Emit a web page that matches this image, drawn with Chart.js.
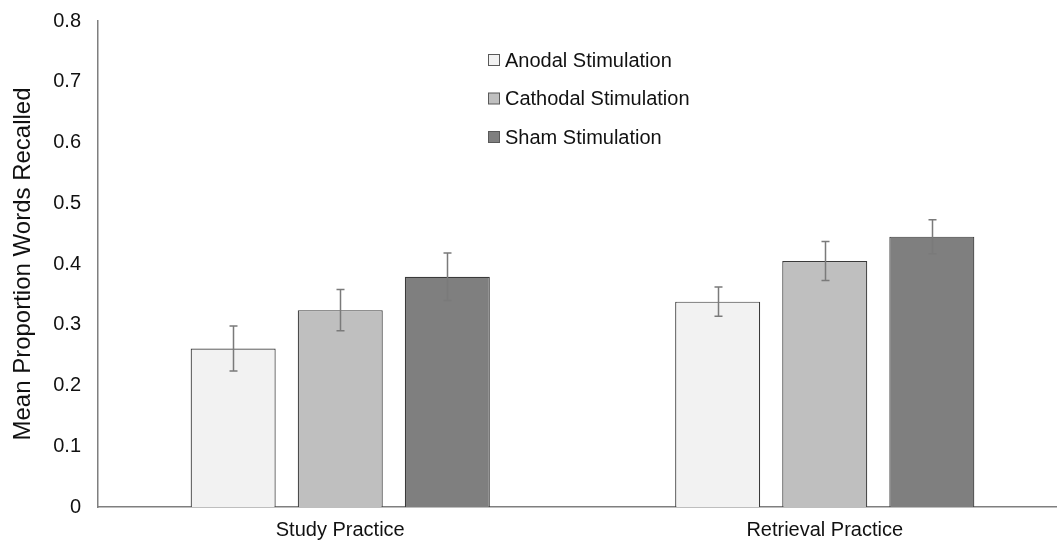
<!DOCTYPE html>
<html>
<head>
<meta charset="utf-8">
<script src="https://cdn.jsdelivr.net/npm/chart.js@4/dist/chart.umd.min.js"></script>
<style>
  html, body { margin: 0; padding: 0; background: #fff; overflow: hidden; }
  #wrap { position: relative; width: 1067px; height: 541px; }
</style>
</head>
<body>
<div id="wrap"><canvas id="chart"></canvas></div>
<script>
/* ================= DATA ================= */
const categories = ["Study Practice", "Retrieval Practice"];
const seriesNames = ["Anodal Stimulation", "Cathodal Stimulation", "Sham Stimulation"];
const anodal = [0.261, 0.338];
const cathodal = [0.324, 0.405];
const sham = [0.379, 0.445];
const anodalErr = [0.037, 0.024];
const cathodalErr = [0.034, 0.032];
const shamErr = [0.039, 0.028];
const yTicks = [0, 0.1, 0.2, 0.3, 0.4, 0.5, 0.6, 0.7, 0.8];

const fills = ["#f2f2f2", "#bfbfbf", "#7f7f7f"];
const FONT = "'Liberation Sans', Arial, sans-serif";

/* ================= PLUGINS ================= */
const errorBars = {
  id: "errorBars",
  afterDatasetsDraw(chart) {
    const ctx = chart.ctx;
    const y = chart.scales.y;
    ctx.save();
    ctx.strokeStyle = "#7a7a7a";
    ctx.lineWidth = 1.5;
    chart.data.datasets.forEach((ds, i) => {
      const meta = chart.getDatasetMeta(i);
      meta.data.forEach((bar, j) => {
        const v = ds.data[j], e = ds.err[j];
        const top = y.getPixelForValue(v + e);
        const bot = y.getPixelForValue(v - e);
        const x = Math.round(bar.x) + 0.5;
        ctx.beginPath();
        ctx.moveTo(x, top); ctx.lineTo(x, bot);
        ctx.moveTo(x - 4, top); ctx.lineTo(x + 4, top);
        ctx.moveTo(x - 4, bot); ctx.lineTo(x + 4, bot);
        ctx.stroke();
      });
    });
    ctx.restore();
  },
};

const innerLegend = {
  id: "innerLegend",
  afterDraw(chart) {
    const ctx = chart.ctx;
    ctx.save();
    ctx.font = "20px " + FONT;
    ctx.textBaseline = "middle";
    chart.data.datasets.forEach((ds, i) => {
      const cy = 60 + i * 38.5;
      ctx.fillStyle = ds.backgroundColor;
      ctx.fillRect(488.5, cy - 5.5, 11, 11);
      ctx.strokeStyle = "#595959";
      ctx.lineWidth = 1;
      ctx.strokeRect(488.5, cy - 5.5, 11, 11);
      ctx.fillStyle = "#111";
      ctx.fillText(ds.label, 505, cy + 1);
    });
    ctx.restore();
  },
};

/* ================= CHART ================= */
const seriesData = [anodal, cathodal, sham];
const seriesErr = [anodalErr, cathodalErr, shamErr];

new Chart(document.getElementById("chart"), {
  type: "bar",
  data: {
    labels: categories,
    datasets: seriesNames.map((name, i) => ({
      label: name,
      data: seriesData[i],
      err: seriesErr[i],
      backgroundColor: fills[i],
      borderColor: "#3a3a3a",
      borderWidth: 1.2,
      categoryPercentage: 0.663,
      barPercentage: 0.794,
    })),
  },
  options: {
    responsive: true,
    maintainAspectRatio: false,
    animation: false,
    layout: { padding: { top: 21, right: 0, left: 0, bottom: 0 } },
    plugins: {
      legend: { display: false },
      tooltip: { enabled: false },
    },
    scales: {
      x: {
        grid: { display: false, drawTicks: false },
        border: { color: "#7f7f7f", width: 1.5 },
        ticks: { color: "#111", font: { family: FONT, size: 20 }, padding: 11 },
        afterFit: (s) => { s.height = 34; },
      },
      y: {
        min: 0,
        max: 0.8,
        afterBuildTicks: (s) => { s.ticks = yTicks.map((v) => ({ value: v })); },
        afterFit: (s) => { s.width = 98; s.paddingTop = 0; s.paddingBottom = 0; },
        grid: { display: false, drawTicks: false },
        border: { color: "#7f7f7f", width: 1.5 },
        ticks: {
          color: "#111",
          font: { family: FONT, size: 20 },
          padding: 17,
          callback: (v) => (v === 0 ? "0" : v.toFixed(1)),
        },
        title: {
          display: true,
          text: "Mean Proportion Words Recalled",
          color: "#111",
          font: { family: FONT, size: 24 },
          padding: { top: 9, bottom: 0 },
        },
      },
    },
  },
  plugins: [errorBars, innerLegend],
});
</script>
</body>
</html>
